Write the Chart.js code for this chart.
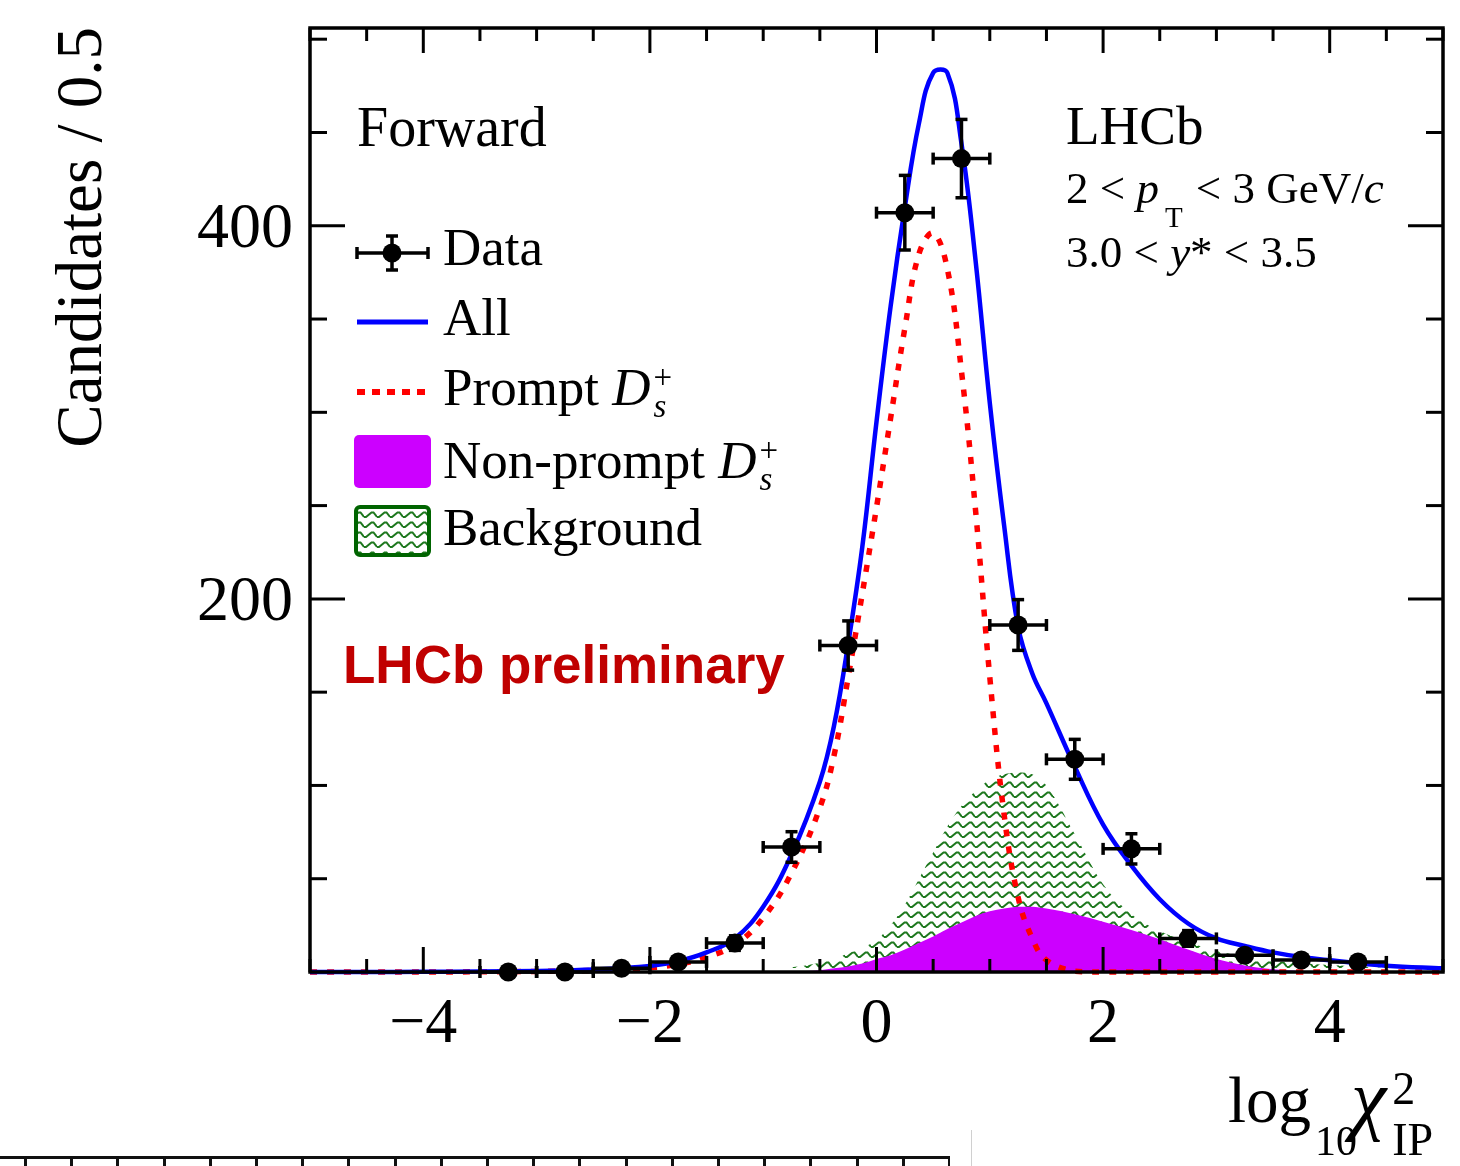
<!DOCTYPE html>
<html>
<head>
<meta charset="utf-8">
<title>log10 chi2 IP fit, forward</title>
<script src="https://cdn.jsdelivr.net/npm/chart.js@4.4.1/dist/chart.umd.min.js"></script>
<style>
  html, body { margin: 0; padding: 0; background: #fff; }
  #wrap { position: relative; width: 1460px; height: 1166px; overflow: hidden; }
  canvas { display: block; }
  .strip {
    position: absolute; left: 0; top: 1156px; width: 950px; height: 12px;
    border-top: 3px solid #111;
    background: repeating-linear-gradient(to right, transparent 0 24px, #111 24px 27px, transparent 27px 46.2px);
  }
  .edge { position: absolute; left: 971px; top: 1130px; width: 1px; height: 36px; background: #d0d0d0; }
</style>
</head>
<body>
<div id="wrap">
  <canvas id="fit" width="1460" height="1166"></canvas>
  <div class="strip"></div>
  <div class="edge"></div>
</div>
<script>
// data points (bin centres, counts, errors)
const binCentres = [-3.25, -2.75, -2.25, -1.75, -1.25, -0.75, -0.25, 0.25, 0.75, 1.25, 1.75, 2.25, 2.75, 3.25, 3.75, 4.25];
const dataCounts = [0, 0, 2, 5.4, 15.5, 67, 175, 407, 436, 186, 114, 66, 18, 9, 6.4, 5.4];
const dataErrors = [0, 0, 1.4, 2.3, 3.9, 8.2, 13.2, 20, 21, 13.6, 10.7, 8.1, 4.2, 3, 2.5, 2.3];
const binHalfWidth = 0.25;

// fit curves
const curveX = [-5, -4.5, -4, -3.5, -3, -2.5, -2, -1.75, -1.5, -1.25,
  -1, -0.75, -0.5, -0.375, -0.25, -0.125, 0, 0.125, 0.25, 0.375,
  0.5, 0.625, 0.75, 0.875, 1, 1.125, 1.25, 1.375, 1.5, 1.75,
  2, 2.25, 2.5, 2.75, 3, 3.25, 3.5, 3.75, 4, 4.5, 5];
const allFit = [0, 0, 0.1, 0.3, 0.6, 1.3, 3.2, 5.8, 10.5, 18,
  35, 63, 102, 132, 176, 228, 295, 357, 410, 455,
  482, 482, 444, 381, 305, 240, 185, 160, 144, 110,
  79, 57, 39, 26, 18, 14, 10.5, 8, 6.3, 3.4, 2];
const promptFit = [0, 0, 0, 0.1, 0.3, 0.9, 2.3, 4.2, 8, 14.5,
  29, 53, 88, 116, 158, 203, 249, 297, 345, 385,
  396, 377, 322, 247, 158, 85, 40, 18, 6.4, 0.4,
  0, 0, 0, 0, 0, 0, 0, 0, 0, 0, 0];
const nonPromptFit = [0, 0, 0, 0, 0, 0, 0, 0, 0, 0,
  0, 0.3, 1, 2, 3, 4.5, 7, 9, 12, 15.5,
  19, 23, 26.5, 30, 32.5, 34, 35, 35, 34, 31,
  27, 22.5, 17.5, 12, 7, 3.5, 1.5, 0.6, 0.2, 0, 0];
const backgroundFit = [0, 0, 0, 0, 0, 0, 0, 0, 0.2, 0.6,
  1.2, 2.5, 5, 7, 10, 13, 17, 25, 36, 50,
  64, 78, 89, 97, 103, 106, 107, 106, 100, 74,
  47, 31, 22, 16, 11.5, 8, 6, 4.7, 3.7, 2.2, 1.2];

// axes
const xMajorTicks = [-4, -2, 0, 2, 4];
const xTickLabels = ['\u22124', '\u22122', '0', '2', '4'];
const yMajorTicks = [200, 400];
const yTickLabels = ['200', '400'];
const yTitle = 'Candidates / 0.5';

const SERIF = '"Liberation Serif", "Times New Roman", serif';
const SANS = '"Liberation Sans", Arial, sans-serif';
const MAGENTA = '#cc00ff';

function makeHatch() {
  const p = document.createElement('canvas');
  p.width = 13; p.height = 10;
  const g = p.getContext('2d');
  g.strokeStyle = 'rgb(30,120,30)';
  g.lineWidth = 2;
  g.beginPath();
  g.moveTo(0, 7); g.lineTo(2, 7); g.lineTo(7.5, 2.5); g.lineTo(9.5, 2.5); g.lineTo(13, 7);
  g.stroke();
  return g.createPattern(p, 'repeat');
}

function line(ctx, x0, y0, x1, y1) {
  ctx.beginPath(); ctx.moveTo(x0, y0); ctx.lineTo(x1, y1); ctx.stroke();
}

// draws text pieces one after another (sub/superscripts via dy, stacked via stack)
function rich(ctx, x, y, parts, family) {
  let cx = x, prev = x;
  parts.forEach(p => {
    ctx.font = (p.i ? 'italic ' : '') + p.s + 'px ' + (family || SERIF);
    const start = p.stack ? prev : cx + (p.dx || 0);
    ctx.fillText(p.t, start, y + (p.dy || 0));
    prev = start;
    cx = Math.max(cx, start + ctx.measureText(p.t).width);
  });
}

function errorBar(ctx, x0, x1, xc, yc, y0, y1) {
  line(ctx, x0, yc, x1, yc);
  line(ctx, x0, yc - 6, x0, yc + 6);
  line(ctx, x1, yc - 6, x1, yc + 6);
  if (y0 !== y1) {
    line(ctx, xc, y0, xc, y1);
    line(ctx, xc - 6, y0, xc + 6, y0);
    line(ctx, xc - 6, y1, xc + 6, y1);
  }
}

const overlay = {
  id: 'overlay',
  beforeDatasetDraw(chart, args) {
    if (args.index !== 0) return;
    const { ctx, scales: { x, y } } = chart;
    ctx.save();
    ctx.strokeStyle = '#000';
    ctx.lineWidth = 3.5;
    binCentres.forEach((c, i) => {
      const e = dataErrors[i];
      errorBar(ctx,
        x.getPixelForValue(c - binHalfWidth), x.getPixelForValue(c + binHalfWidth),
        x.getPixelForValue(c), y.getPixelForValue(dataCounts[i]),
        y.getPixelForValue(dataCounts[i] + e), y.getPixelForValue(dataCounts[i] - e));
    });
    ctx.restore();
  },
  afterDraw(chart) {
    const { ctx, chartArea: a, scales: { x, y } } = chart;
    ctx.save();
    ctx.strokeStyle = '#000';
    ctx.fillStyle = '#000';

    // ticks inside the frame
    ctx.lineWidth = 3;
    for (let v = -5; v <= 5; v += 0.5) {
      const px = x.getPixelForValue(v);
      const len = xMajorTicks.includes(v) ? 25 : 13;
      line(ctx, px, a.bottom, px, a.bottom - len);
      line(ctx, px, a.top, px, a.top + len);
    }
    for (let v = 50; v < y.max; v += 50) {
      const py = y.getPixelForValue(v);
      const len = v % 200 === 0 ? 35 : 17;
      line(ctx, a.left, py, a.left + len, py);
      line(ctx, a.right, py, a.right - len, py);
    }
    ctx.lineWidth = 3.5;
    ctx.strokeRect(a.left, a.top, a.right - a.left, a.bottom - a.top);

    // tick labels
    ctx.font = '64px ' + SERIF;
    ctx.textAlign = 'center';
    xMajorTicks.forEach((v, i) => ctx.fillText(xTickLabels[i], x.getPixelForValue(v), 1042));
    ctx.textAlign = 'right';
    yMajorTicks.forEach((v, i) => ctx.fillText(yTickLabels[i], 293, y.getPixelForValue(v) + 21.5));

    // axis titles
    ctx.save();
    ctx.translate(101, 27);
    ctx.rotate(-Math.PI / 2);
    ctx.font = '65px ' + SERIF;
    ctx.textAlign = 'right';
    ctx.fillText(yTitle, 0, 0);
    ctx.restore();
    ctx.textAlign = 'left';
    rich(ctx, 1228, 1122, [
      { t: 'log', s: 65 },
      { t: '10', s: 42, dy: 33, dx: 4 },
      { t: '\u03c7', s: 80, i: true, dx: -6, dy: 3 },
      { t: '2', s: 46, dy: -18, dx: 6 },
      { t: 'IP', s: 46, dy: 33, stack: true }
    ]);

    // labels in the frame
    rich(ctx, 357, 146, [{ t: 'Forward', s: 56 }]);
    rich(ctx, 1066, 144, [{ t: 'LHCb', s: 55 }]);
    rich(ctx, 1066, 203, [
      { t: '2 < ', s: 45 }, { t: 'p', s: 45, i: true },
      { t: 'T', s: 29, dy: 24, dx: 6 },
      { t: ' < 3 GeV/', s: 45, dx: 2 }, { t: 'c', s: 45, i: true }
    ]);
    rich(ctx, 1066, 267, [
      { t: '3.0 < ', s: 45 }, { t: 'y', s: 45, i: true }, { t: '* < 3.5', s: 45 }
    ]);
    ctx.fillStyle = '#c00000';
    ctx.font = 'bold 53px ' + SANS;
    ctx.fillText('LHCb preliminary', 343, 683);

    // legend
    const ds = chart.data.datasets;
    const Ds = [{ t: 'D', s: 53, i: true }, { t: '+', s: 33, dy: -17, dx: 3 }, { t: 's', s: 33, i: true, dy: 12, stack: true }];
    ctx.fillStyle = '#000';
    ctx.lineWidth = 3.5;
    errorBar(ctx, 357, 428, 392, 253, 236, 270);
    ctx.beginPath(); ctx.arc(392, 253, 9.5, 0, Math.PI * 2); ctx.fill();
    rich(ctx, 443, 265, [{ t: ds[0].label, s: 53 }]);

    ctx.strokeStyle = ds[1].borderColor;
    ctx.lineWidth = 5;
    line(ctx, 357, 322, 428, 322);
    rich(ctx, 443, 335, [{ t: ds[1].label, s: 53 }]);

    ctx.strokeStyle = ds[2].borderColor;
    ctx.lineWidth = 6;
    ctx.setLineDash([8, 7]);
    line(ctx, 357, 392, 428, 392);
    ctx.setLineDash([]);
    rich(ctx, 443, 405, [{ t: ds[2].label + ' ', s: 53 }].concat(Ds));

    ctx.fillStyle = ds[3].backgroundColor;
    ctx.beginPath(); ctx.roundRect(354, 435, 77, 53, 5); ctx.fill();
    ctx.fillStyle = '#000';
    rich(ctx, 443, 478, [{ t: ds[3].label + ' ', s: 53 }].concat(Ds));

    ctx.fillStyle = ds[4].backgroundColor;
    ctx.strokeStyle = '#006400';
    ctx.lineWidth = 4;
    ctx.beginPath(); ctx.roundRect(356, 507, 73, 48, 4); ctx.fill(); ctx.stroke();
    ctx.fillStyle = '#000';
    rich(ctx, 443, 545, [{ t: ds[4].label, s: 53 }]);

    ctx.restore();
  }
};

const canvas = document.getElementById('fit');
const toXY = (xs, ys) => xs.map((v, i) => ({ x: v, y: ys[i] }));
const curveClip = { left: 0, top: 0, right: 0, bottom: 3 };

new Chart(canvas.getContext('2d'), {
  type: 'scatter',
  data: {
    datasets: [
      { label: 'Data', data: toXY(binCentres, dataCounts), backgroundColor: '#000', borderWidth: 0,
        pointRadius: 9.5, pointHoverRadius: 9.5, clip: false, order: 0 },
      { label: 'All', type: 'line', data: toXY(curveX, allFit), borderColor: '#0000ff', borderWidth: 4.5,
        pointRadius: 0, fill: false, tension: 0.4, clip: curveClip, order: 1 },
      { label: 'Prompt', type: 'line', data: toXY(curveX, promptFit), borderColor: '#ff0000', borderWidth: 5.5,
        borderDash: [7, 10], borderCapStyle: 'butt', pointRadius: 0, fill: false,
        tension: 0.4, clip: curveClip, order: 2 },
      { label: 'Non-prompt', type: 'line', data: toXY(curveX, nonPromptFit), borderWidth: 0,
        backgroundColor: MAGENTA, pointRadius: 0, fill: 'origin', cubicInterpolationMode: 'monotone', order: 3 },
      { label: 'Background', type: 'line', data: toXY(curveX, backgroundFit), borderWidth: 0,
        backgroundColor: makeHatch(), pointRadius: 0, fill: 'origin', cubicInterpolationMode: 'monotone', order: 4 }
    ]
  },
  options: {
    responsive: false,
    animation: false,
    devicePixelRatio: 1,
    events: [],
    layout: { padding: { left: 310, right: 17, top: 28, bottom: 194 } },
    scales: {
      x: { type: 'linear', min: -5, max: 5, display: false },
      y: { type: 'linear', min: 0, max: 506, display: false }
    },
    plugins: { legend: { display: false }, tooltip: { enabled: false } }
  },
  plugins: [overlay]
});
</script>
</body>
</html>
